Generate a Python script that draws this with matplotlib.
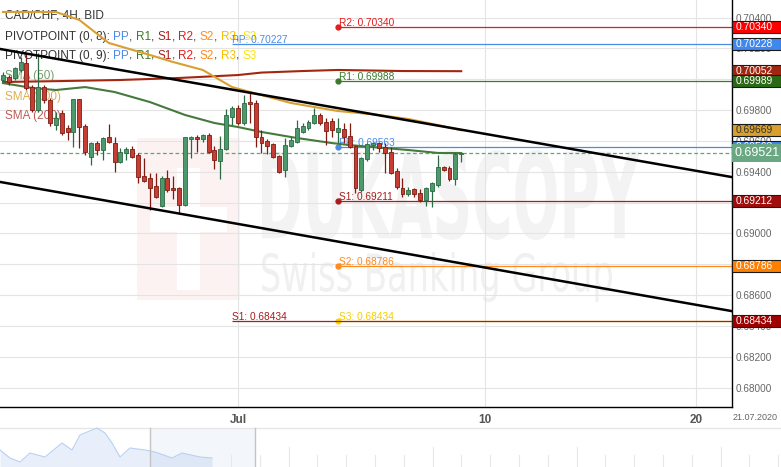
# -*- coding: utf-8 -*-
import numpy as np
import matplotlib
matplotlib.use("Agg")
import matplotlib.pyplot as plt
from matplotlib.patches import Rectangle, PathPatch
from matplotlib.textpath import TextPath
from matplotlib.font_manager import FontProperties
from matplotlib.transforms import Affine2D, blended_transform_factory

plt.rcParams['font.family'] = ['Liberation Sans', 'DejaVu Sans']

W, H = 781, 467

# ---------- Data ----------
# CAD/CHF 4H candles, bar 40 = 1 Jul 00:00 (6 bars per trading day)
opens = [0.69995, 0.70014, 0.70008, 0.70060, 0.70105, 0.69949, 0.69800, 0.69949, 0.69865, 0.69703,
         0.69781, 0.69684, 0.69658, 0.69872, 0.69697, 0.69496, 0.69586, 0.69541, 0.69625, 0.69586,
         0.69463, 0.69522, 0.69547, 0.69509, 0.69372, 0.69359, 0.69308, 0.69178, 0.69359, 0.69295,
         0.69295, 0.69184, 0.69612, 0.69625, 0.69612, 0.69638, 0.69541, 0.69470, 0.69547, 0.69755,
         0.69813, 0.69716, 0.69852, 0.69846, 0.69625, 0.69599, 0.69580, 0.69502, 0.69411, 0.69567,
         0.69593, 0.69658, 0.69684, 0.69716, 0.69768, 0.69723, 0.69729, 0.69658, 0.69677, 0.69632,
         0.69567, 0.69282, 0.69483, 0.69573, 0.69586, 0.69560, 0.69528, 0.69405, 0.69295, 0.69256,
         0.69288, 0.69262, 0.69217, 0.69275, 0.69314, 0.69431, 0.69424, 0.69353, 0.69515]
highs = [0.70047, 0.70027, 0.70079, 0.70144, 0.70170, 0.69962, 0.70170, 0.69962, 0.69878, 0.69787,
         0.69800, 0.69703, 0.69872, 0.69872, 0.69710, 0.69593, 0.69599, 0.69625, 0.69710, 0.69625,
         0.69554, 0.69560, 0.69567, 0.69522, 0.69489, 0.69392, 0.69392, 0.69372, 0.69411, 0.69372,
         0.69301, 0.69625, 0.69632, 0.69638, 0.69645, 0.69651, 0.69567, 0.69632, 0.69807, 0.69826,
         0.69833, 0.69898, 0.69911, 0.69865, 0.69671, 0.69612, 0.69586, 0.69509, 0.69619, 0.69625,
         0.69735, 0.69716, 0.69735, 0.69813, 0.69781, 0.69748, 0.69748, 0.69748, 0.69716, 0.69716,
         0.69573, 0.69496, 0.69586, 0.69593, 0.69593, 0.69586, 0.69560, 0.69424, 0.69359, 0.69301,
         0.69295, 0.69288, 0.69301, 0.69334, 0.69509, 0.69437, 0.69437, 0.69528, 0.69522]
lows = [0.69982, 0.69962, 0.69995, 0.70047, 0.69930, 0.69787, 0.69787, 0.69846, 0.69697, 0.69671,
        0.69638, 0.69606, 0.69560, 0.69554, 0.69509, 0.69444, 0.69509, 0.69476, 0.69586, 0.69398,
        0.69457, 0.69476, 0.69489, 0.69327, 0.69334, 0.69152, 0.69230, 0.69171, 0.69269, 0.69223,
        0.69126, 0.69178, 0.69489, 0.69528, 0.69593, 0.69522, 0.69418, 0.69353, 0.69541, 0.69703,
        0.69703, 0.69703, 0.69716, 0.69560, 0.69522, 0.69515, 0.69489, 0.69392, 0.69366, 0.69560,
        0.69586, 0.69651, 0.69671, 0.69710, 0.69703, 0.69573, 0.69625, 0.69586, 0.69586, 0.69554,
        0.69262, 0.69269, 0.69470, 0.69541, 0.69528, 0.69392, 0.69385, 0.69288, 0.69236, 0.69243,
        0.69236, 0.69204, 0.69178, 0.69171, 0.69301, 0.69405, 0.69340, 0.69314, 0.69463]
closes = [0.70027, 0.69982, 0.70073, 0.70112, 0.69943, 0.69800, 0.69949, 0.69865, 0.69716, 0.69748,
          0.69651, 0.69658, 0.69872, 0.69690, 0.69528, 0.69586, 0.69541, 0.69619, 0.69593, 0.69463,
          0.69528, 0.69547, 0.69496, 0.69366, 0.69340, 0.69295, 0.69236, 0.69359, 0.69282, 0.69282,
          0.69184, 0.69625, 0.69625, 0.69612, 0.69638, 0.69528, 0.69476, 0.69547, 0.69768, 0.69813,
          0.69716, 0.69846, 0.69839, 0.69625, 0.69586, 0.69567, 0.69496, 0.69398, 0.69573, 0.69606,
          0.69684, 0.69697, 0.69723, 0.69768, 0.69716, 0.69664, 0.69671, 0.69684, 0.69625, 0.69560,
          0.69295, 0.69489, 0.69580, 0.69586, 0.69554, 0.69522, 0.69392, 0.69301, 0.69256, 0.69282,
          0.69256, 0.69217, 0.69295, 0.69327, 0.69431, 0.69411, 0.69353, 0.69515, 0.69521]

# moving averages (read at selected bars)
sma50_idx = [0, 5, 9, 14, 19, 25, 31, 36, 40, 44, 50, 56, 59, 63, 69, 74, 78]
sma50_val = [0.69975, 0.69943, 0.69930, 0.69949, 0.69917, 0.69852, 0.69768, 0.69716, 0.69690,
             0.69658, 0.69619, 0.69586, 0.69573, 0.69560, 0.69541, 0.69522, 0.69521]
sma100_idx = [0, 9, 13, 18, 25, 29, 34, 39, 44, 49, 54, 57, 64, 69, 74, 78]
sma100_val = [0.70436, 0.70436, 0.70384, 0.70235, 0.70157, 0.70111, 0.70060, 0.69949, 0.69897,
              0.69846, 0.69813, 0.69794, 0.69768, 0.69742, 0.69703, 0.69669]
sma200_idx = [0, 10, 20, 30, 40, 44, 51, 57, 68, 78]
sma200_val = [0.69982, 0.69988, 0.69995, 0.70008, 0.70027, 0.70043, 0.70053, 0.70060, 0.70053, 0.70052]

# channel trend lines
upper_x = [-0.5, 124.0]
upper_y = [0.70196, 0.69366]
lower_x = [-0.5, 124.0]
lower_y = [0.69334, 0.68497]

# weekly pivots
piv9_names = ['R2', 'R1', 'PP', 'S1', 'S2', 'S3']
piv9_vals = [0.70340, 0.69988, 0.69563, 0.69211, 0.68786, 0.68434]
piv9_start = 57
piv8_names = ['PP', 'S1']
piv8_vals = [0.70227, 0.68434]
piv8_start = 39

last_price = 0.69521

# right-hand price tags
tag_vals = [0.70340, 0.70228, 0.70052, 0.69989, 0.69669, 0.69563, 0.69212, 0.68786, 0.68434]
tag_fill = ['#ff0000', '#3f88ee', '#a0260f', '#2a6a14', '#d9a12b', '#3f88ee', '#a00d0d', '#ff8000', '#a00000']

tick_pos = [40, 82, 118]
tick_labels = ['Jul', '10', '20']
yticks = [0.680, 0.682, 0.684, 0.686, 0.688, 0.690, 0.692, 0.694, 0.696, 0.698, 0.700, 0.702, 0.704]

# navigator (mini history) levels
nav_x = [0, 10, 20, 30, 45, 62, 72, 80, 97, 105, 112, 120, 130, 145, 155, 172, 182, 200, 212]
nav_y = [17, 9, 5, 14, 10, 24, 17, 32, 39, 34, 24, 10, 19, 17, 15, 9, 14, 10, 9]

# ---------- Colours ----------
C_PP = '#4a8ae8'
C_R1 = '#3a7a28'
C_S1 = '#a81c1c'
C_R2 = '#e41b1b'
C_S2 = '#ff8a1e'
C_R3 = '#f5c000'
C_S3 = '#ffe600'
piv_col = {'R2': C_R2, 'R1': C_R1, 'PP': C_PP, 'S1': C_S1, 'S2': C_S2, 'S3': '#f2d000'}
INK = '#333333'


def fx(px):
    return px / W


def fy(py):
    return 1 - py / H


fig = plt.figure(figsize=(W / 100, H / 100), dpi=100)
ax = fig.add_axes([0, 60 / H, 731.5 / W, 407 / H])
ax.set_facecolor('white')
ax.set_xlim(-0.51, 124.0)
ax.set_ylim(0.67875, 0.705135)

# ---------- watermark ----------
ax.add_patch(Rectangle((fx(137), fy(300)), fx(103), 162 / H, transform=fig.transFigure,
                       fc='#fcf2f2', ec='none', zorder=0.3))
ax.add_patch(Rectangle((fx(177), fy(290)), fx(23), 122 / H, transform=fig.transFigure,
                       fc='white', ec='none', zorder=0.35))
ax.add_patch(Rectangle((fx(150), fy(232)), fx(77), 25 / H, transform=fig.transFigure,
                       fc='white', ec='none', zorder=0.35))


def wm_text(s, x0, y0, x1, y1, color, weight):
    tp = TextPath((0, 0), s, size=50, prop=FontProperties(family='DejaVu Sans', weight=weight))
    e = tp.get_extents()
    tr = Affine2D().translate(-e.x0, -e.y0).scale((x1 - x0) / e.width, (y1 - y0) / e.height) \
        .translate(x0, H - y1)
    ax.add_patch(PathPatch(tp, transform=tr, fc=color, ec='none', zorder=0.4))


wm_text('DUKASCOPY', 262, 150, 640, 240, '#f3f3f3', 'bold')
wm_text('Swiss Banking Group', 262, 252, 612, 302, '#f0f0f0', 'normal')

# ---------- grid / axes ----------
ax.set_yticks(yticks)
ax.set_yticklabels(['%.5f' % v for v in yticks])
ax.yaxis.tick_right()
ax.tick_params(axis='y', length=0, pad=3.3, labelsize=7.2, labelcolor='#666666')
ax.set_xticks(tick_pos)
ax.set_xticklabels(tick_labels)
ax.tick_params(axis='x', length=0, pad=5, labelsize=8.5, labelcolor='#555555')
for lab in ax.get_xticklabels():
    lab.set_fontweight('bold')
ax.grid(True, color='#e4e4e4', lw=0.8)
ax.set_axisbelow(True)
for side in ['top', 'left']:
    ax.spines[side].set_visible(False)
for side in ['right', 'bottom']:
    ax.spines[side].set_color('black')
    ax.spines[side].set_linewidth(1)

# ---------- last price ----------
ax.axhline(last_price, color='#5aa874', lw=0.9, ls=(0, (3, 2)), zorder=2)

# ---------- pivots ----------
xl0, xl1 = ax.get_xlim()
for name, v in zip(piv9_names, piv9_vals):
    col = piv_col[name]
    line_col = '#ffd700' if name == 'S3' else col
    ax.plot([piv9_start, xl1], [v, v], color=line_col, lw=0.9, zorder=2.5, solid_capstyle='butt')
    ax.plot(piv9_start, v, 'o', color=line_col, ms=3.5, zorder=2.6)
    ax.annotate('%s: %.5f' % (name, v), xy=(piv9_start, v), xytext=(1, 0.8),
                textcoords='offset points', color=col, fontsize=7.3, va='baseline', ha='left', zorder=2.6)
for name, v in zip(piv8_names, piv8_vals):
    col = piv_col[name]
    ax.plot([piv8_start, xl1], [v, v], color=col, lw=0.9, zorder=2.7, solid_capstyle='butt')
    ax.annotate('%s: %.5f' % (name, v), xy=(piv8_start, v), xytext=(0, 0.8),
                textcoords='offset points', color=col, fontsize=7.3, va='baseline', ha='left', zorder=2.7)

# ---------- moving averages ----------
ax.plot(sma200_idx, sma200_val, color='#a3260f', lw=1.5, zorder=3)
ax.plot(sma100_idx, sma100_val, color='#d9a030', lw=1.5, zorder=3)
ax.plot(sma50_idx, sma50_val, color='#467a3c', lw=1.5, zorder=3)

# ---------- candles ----------
o, hh, ll, c = map(np.array, (opens, highs, lows, closes))
idx = np.arange(len(o))
up = c >= o
body_col = np.where(up, '#4c9a6c', '#c63d33')
edge_col = np.where(up, '#2c6a44', '#7f1a10')
ax.vlines(idx, ll, hh, colors=edge_col, lw=0.9, zorder=4)
ax.bar(idx, np.maximum(np.abs(c - o), 0.00003), bottom=np.minimum(o, c), width=0.68,
       color=body_col, edgecolor=edge_col, lw=0.6, zorder=5)

# ---------- channel ----------
ax.plot(upper_x, upper_y, color='black', lw=1.8, zorder=6)
ax.plot(lower_x, lower_y, color='black', lw=1.8, zorder=6)

# ---------- legend text ----------
SP = 2.4


def colored_row(py, parts, size=8.5):
    t = ax.text(fx(5), fy(py), parts[0][0], color=parts[0][1], fontsize=size, va='center',
                ha='left', transform=fig.transFigure, zorder=2)
    for s, col, gap in parts[1:]:
        t = ax.annotate(s, xy=(1, 0), xycoords=t, xytext=(gap, 0), textcoords='offset points',
                        color=col, fontsize=size, va='bottom', ha='left', zorder=2)


colored_row(15, [('CAD/CHF, 4H, BID', INK)])
for py, lab in [(37, 'PIVOTPOINT (0, 8):'), (56, 'PIVOTPOINT (0, 9):')]:
    parts = [(lab, INK)]
    for k, (nm, cl) in enumerate([('PP', C_PP), ('R1', C_R1), ('S1', C_S1), ('R2', C_R2),
                                  ('S2', C_S2), ('R3', C_R3), ('S3', C_S3)]):
        if k > 0:
            parts.append((',', INK, 0))
        parts.append((nm, cl, SP))
    colored_row(py, parts)
for py, lab, cl in [(76, 'SMA (50)', '#5d8f52'), (97, 'SMA (100)', '#d9a030'),
                    (116, 'SMA (200)', '#b3403a')]:
    ax.text(fx(5), fy(py), lab, color=cl, alpha=0.85, fontsize=8.5, va='center', ha='left',
            transform=fig.transFigure, zorder=2)

# ---------- right tags ----------
bt = blended_transform_factory(ax.transAxes, ax.transData)
dx = 1 / 731.5
half = 0.00039
for v, fc in sorted(zip(tag_vals, tag_fill), reverse=True):
    tc = '#333333' if fc == '#d9a12b' else 'white'
    ax.add_patch(Rectangle((1 + 0.5 * dx, v - half), 48.5 * dx, 2 * half, transform=bt,
                           fc=fc, ec='#1a1a1a', lw=0.8, clip_on=False, zorder=10))
    ax.text(1 + 4 * dx, v, '%.5f' % v, transform=bt, color=tc, fontsize=7.4, va='center',
            ha='left', clip_on=False, zorder=11)
ax.add_patch(Rectangle((1 + 0.5 * dx, last_price - 0.00058), 49.5 * dx, 0.00116, transform=bt,
                       fc='#6aa884', ec='none', clip_on=False, zorder=12))
ax.text(1 + 3 * dx, last_price, '%.5f' % last_price, transform=bt, color='white', fontsize=9,
        va='center', ha='left', clip_on=False, zorder=13)

fig.text(fx(755), fy(418), '21.07.2020', color='#666666', fontsize=6.5, ha='center', va='center')

# ---------- navigator ----------
nav = fig.add_axes([0, 0, 1, 40 / H])
nav.set_xlim(0, W)
nav.set_ylim(0, 40)
nav.axis('off')
nav.axhline(39.5, color='#e6e6e6', lw=1)
nav.fill_between(nav_x, nav_y, 0, color='#e8effb', lw=0)
nav.plot(nav_x, nav_y, color='#b8d0f2', lw=0.8)
nav.axvspan(150, 255, ymax=39 / 40, color='#8fa8d0', alpha=0.10, lw=0)
for xv in (150, 255):
    nav.plot([xv, xv], [0, 39], color='#c4c4c4', lw=1)
for k in range(20):
    xv = 231 + 28.8 * k
    top = 20 if k % 5 == 2 else 12
    nav.plot([xv, xv], [0, top], color='#e8e8e8', lw=0.8)

fig.savefig('out.png', dpi=100)
